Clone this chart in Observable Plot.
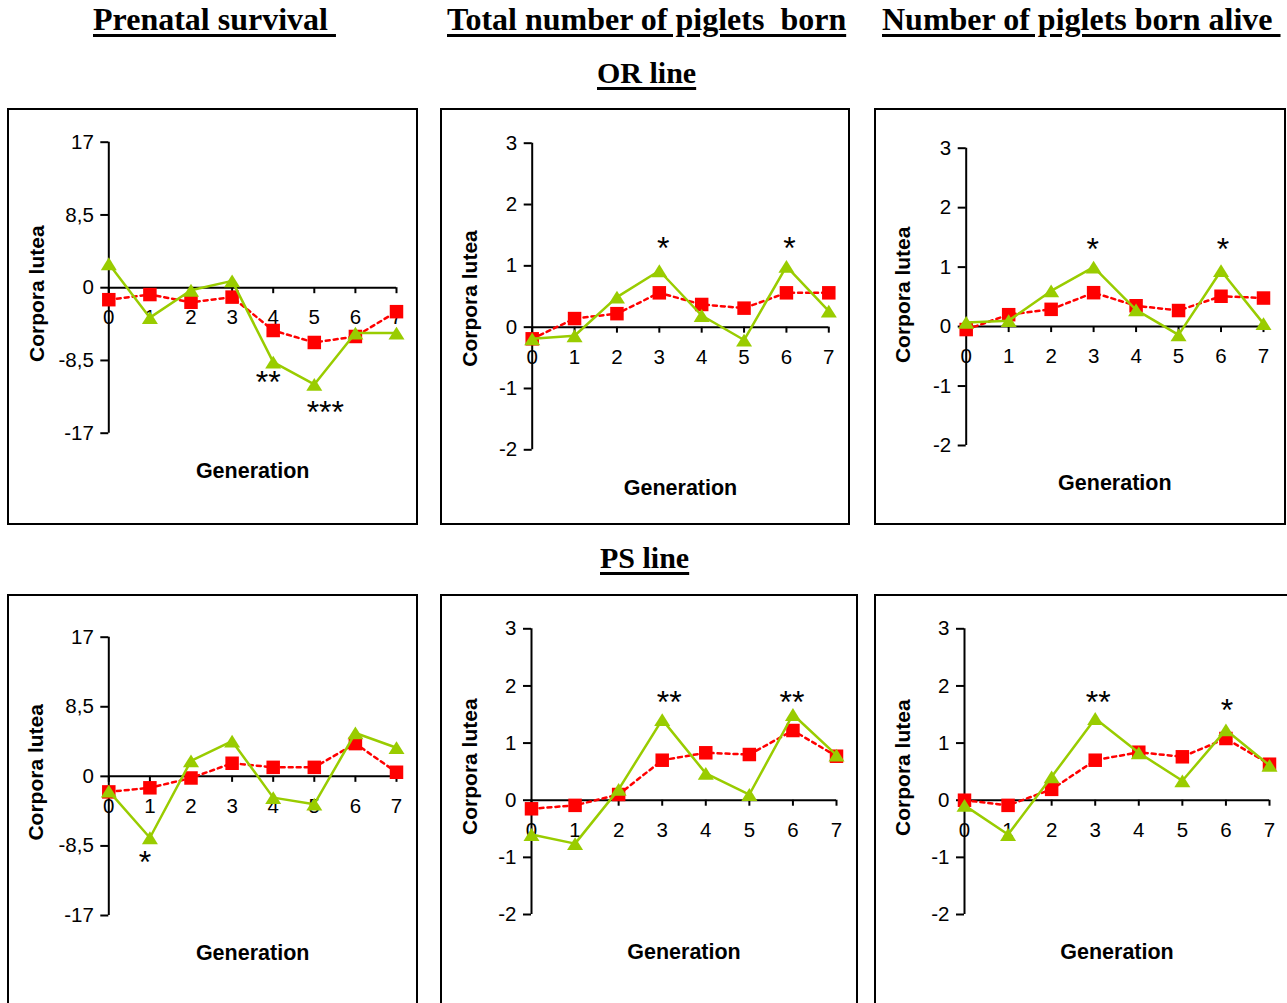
<!DOCTYPE html>
<html><head><meta charset="utf-8">
<script src="https://cdn.jsdelivr.net/npm/d3@7"></script>
<script src="https://cdn.jsdelivr.net/npm/@observablehq/plot@0.6"></script>
<style>
body{margin:0;background:#fff;}
#page{position:relative;width:1287px;height:1003px;overflow:hidden;background:#fff;}
.title{position:absolute;font-family:"Liberation Serif","Times New Roman",serif;font-weight:bold;font-size:32px;line-height:32px;white-space:pre;text-decoration:underline;text-decoration-thickness:3px;text-underline-offset:4px;color:#000;}
.section{font-size:30px;line-height:30px;}
.panel{position:absolute;}
.panel svg{position:absolute;left:0;top:0;}
.frame{position:absolute;left:0;top:0;right:0;bottom:0;border:2px solid #000;box-sizing:border-box;pointer-events:none;}
g[aria-label="stars"] text{letter-spacing:5px;}
g[aria-label="tick labels"] text{letter-spacing:0.5px;}
</style></head>
<body>
<div id="page"></div>
<script>
// ---------- data ----------
const generations = [0, 1, 2, 3, 4, 5, 6, 7];

// OR line
const orPrenatalTriangle = [2.8, -3.5, -0.3, 0.8, -8.7, -11.3, -5.3, -5.3];
const orPrenatalSquare   = [-1.4, -0.8, -1.7, -1.1, -5.0, -6.4, -5.7, -2.8];
const orTotalTriangle    = [-0.19, -0.14, 0.49, 0.92, 0.19, -0.21, 0.99, 0.26];
const orTotalSquare      = [-0.19, 0.14, 0.22, 0.56, 0.37, 0.31, 0.56, 0.56];
const orAliveTriangle    = [0.07, 0.10, 0.60, 1.00, 0.28, -0.14, 0.94, 0.05];
const orAliveSquare      = [-0.05, 0.20, 0.29, 0.57, 0.35, 0.27, 0.51, 0.48];

// PS line
const psPrenatalTriangle = [-1.8, -7.5, 1.9, 4.3, -2.6, -3.4, 5.3, 3.5];
const psPrenatalSquare   = [-1.9, -1.4, -0.2, 1.6, 1.1, 1.1, 4.0, 0.5];
const psTotalTriangle    = [-0.60, -0.76, 0.19, 1.41, 0.47, 0.10, 1.50, 0.79];
const psTotalSquare      = [-0.15, -0.09, 0.10, 0.70, 0.83, 0.80, 1.22, 0.77];
const psAliveTriangle    = [-0.09, -0.60, 0.41, 1.43, 0.83, 0.34, 1.23, 0.61];
const psAliveSquare      = [0.00, -0.09, 0.19, 0.70, 0.84, 0.76, 1.08, 0.63];

// axis ticks
const prenatalTicks = [-17, -8.5, 0, 8.5, 17];
const litterTicks   = [-2, -1, 0, 1, 2, 3];

// significance marks
const orPrenatalStars = [{gen: 4, label: "**"}, {gen: 5, label: "***"}];
const orTotalStars    = [{gen: 3, label: "*"}, {gen: 6, label: "*"}];
const orAliveStars    = [{gen: 3, label: "*"}, {gen: 6, label: "*"}];
const psPrenatalStars = [{gen: 1, label: "*"}];
const psTotalStars    = [{gen: 3, label: "**"}, {gen: 6, label: "**"}];
const psAliveStars    = [{gen: 3, label: "**"}, {gen: 6, label: "*"}];

// text
const columnTitles = ["Prenatal survival ", "Total number of piglets  born", "Number of piglets born alive "];
const sectionTitles = ["OR line", "PS line"];
const yLabel = "Corpora lutea";
const xLabel = "Generation";

// ---------- style ----------
const RED = "#FF0000";
const GREEN = "#99CC00";
const FONT = "'Liberation Sans', Arial, sans-serif";
const STAR_SIZE = 32;

const triSymbol = {draw(ctx, size) { const r = Math.sqrt(size / Math.PI); const h = r * 0.8; ctx.moveTo(0, -h); ctx.lineTo(r, h); ctx.lineTo(-r, h); ctx.closePath(); }};
const sqSymbol = {draw(ctx, size) { const r = Math.sqrt(size / Math.PI); ctx.rect(-r, -r, 2 * r, 2 * r); }};

const page = document.getElementById("page");

function addTitle(text, left, top, cls) {
  const d = document.createElement("div");
  d.className = "title" + (cls ? " " + cls : "");
  d.textContent = text;
  d.style.left = left + "px";
  d.style.top = top + "px";
  page.appendChild(d);
}
addTitle(columnTitles[0], 93, 3);
addTitle(columnTitles[1], 447, 3);
addTitle(columnTitles[2], 882, 3);
addTitle(sectionTitles[0], 597, 58, "section");
addTitle(sectionTitles[1], 600, 543, "section");

const fmt = d => String(d).replace(".", ",");

function panel(cfg) {
  const rows = generations.map((g, i) => ({gen: g, tri: cfg.tri[i], sq: cfg.sq[i]}));
  const [yMin, yMax] = cfg.domain;
  const starMarks = cfg.stars.map((s, i) => Plot.text([s], {
    x: "gen", y: d => cfg.tri[generations.indexOf(d.gen)], text: "label",
    dx: cfg.starDx[i] + 2, dy: cfg.starDy[i] + 0.12 * STAR_SIZE,
    fontSize: STAR_SIZE, fill: "#000", ariaLabel: "stars"
  }));
  const chart = Plot.plot({
    width: cfg.width, height: cfg.height,
    marginLeft: cfg.mL, marginRight: cfg.mR, marginTop: cfg.mT, marginBottom: cfg.mB,
    x: {domain: [0, 7], axis: null},
    y: {domain: [yMin, yMax]},
    style: {fontFamily: FONT, fontSize: "20.5px", color: "#000", background: "transparent", overflow: "visible"},
    marks: [
      Plot.axisY({ticks: cfg.ticks, tickFormat: fmt, tickSize: 8, tickPadding: 7, strokeWidth: 2, label: null}),
      Plot.ruleX([0], {y1: yMin, y2: yMax, strokeWidth: 2}),
      Plot.ruleY([0], {x1: 0, x2: 7, strokeWidth: 2}),
      Plot.ruleX(generations, {x: d => d, y1: 0, y2: 0, insetBottom: -6, strokeWidth: 2}),
      Plot.text(generations, {x: d => d, y: 0, dy: 30, text: d => String(d), fill: "#000"}),
      Plot.line(rows, {x: "gen", y: "sq", stroke: RED, strokeWidth: 2.5, strokeDasharray: "4,4"}),
      Plot.dot(rows, {x: "gen", y: "sq", symbol: sqSymbol, r: 6.75, fill: RED, stroke: "none"}),
      Plot.line(rows, {x: "gen", y: "tri", stroke: GREEN, strokeWidth: 2.5}),
      Plot.dot(rows, {x: "gen", y: "tri", symbol: triSymbol, r: 8, fill: GREEN, stroke: "none"}),
      ...starMarks,
      Plot.text([yLabel], {frameAnchor: "left", textAnchor: "middle", lineAnchor: "middle", rotate: -90, dx: cfg.yLabelDx, dy: cfg.yLabelDy, fontWeight: "bold", fontSize: 21, fill: "#000"}),
      Plot.text([xLabel], {frameAnchor: "bottom", lineAnchor: "middle", dy: 38, fontWeight: "bold", fontSize: 21.5, fill: "#000"})
    ]
  });
  const box = document.createElement("div");
  box.className = "panel";
  box.style.left = cfg.left + "px";
  box.style.top = cfg.top + "px";
  box.style.width = cfg.width + "px";
  box.style.height = cfg.height + "px";
  box.appendChild(chart);
  const frame = document.createElement("div");
  frame.className = "frame";
  box.appendChild(frame);
  page.appendChild(box);
}

panel({left: 7, top: 108, width: 411, height: 417, mL: 101.3, mR: 22, mT: 33.7, mB: 92.3,
  domain: [-17, 17], ticks: prenatalTicks, tri: orPrenatalTriangle, sq: orPrenatalSquare,
  stars: orPrenatalStars, starDx: [-7, 9], starDy: [17, 24], yLabelDx: -72, yLabelDy: 6});
panel({left: 440, top: 108, width: 410, height: 417, mL: 91.7, mR: 21.7, mT: 34.7, mB: 75.7,
  domain: [-2, 3], ticks: litterTicks, tri: orTotalTriangle, sq: orTotalSquare,
  stars: orTotalStars, starDx: [2, 1], starDy: [-26, -22], yLabelDx: -62, yLabelDy: 2});
panel({left: 874, top: 108, width: 412, height: 417, mL: 91.7, mR: 23, mT: 39.7, mB: 80,
  domain: [-2, 3], ticks: litterTicks, tri: orAliveTriangle, sq: orAliveSquare,
  stars: orAliveStars, starDx: [-3, 0], starDy: [-21, -25], yLabelDx: -63, yLabelDy: -2});
panel({left: 7, top: 594, width: 411, height: 420, mL: 101.3, mR: 22, mT: 42.7, mB: 99,
  domain: [-17, 17], ticks: prenatalTicks, tri: psPrenatalTriangle, sq: psPrenatalSquare,
  stars: psPrenatalStars, starDx: [-7], starDy: [21], yLabelDx: -73, yLabelDy: -4});
panel({left: 440, top: 594, width: 418, height: 420, mL: 91, mR: 22, mT: 34.3, mB: 100,
  domain: [-2, 3], ticks: litterTicks, tri: psTotalTriangle, sq: psTotalSquare,
  stars: psTotalStars, starDx: [5, -3], starDy: [-21, -16], yLabelDx: -61, yLabelDy: -5});
panel({left: 874, top: 594, width: 426, height: 420, mL: 90, mR: 31, mT: 34.3, mB: 100,
  domain: [-2, 3], ticks: litterTicks, tri: psAliveTriangle, sq: psAliveSquare,
  stars: psAliveStars, starDx: [1, -1], starDy: [-20, -23], yLabelDx: -61, yLabelDy: -4});
</script>
</body></html>
